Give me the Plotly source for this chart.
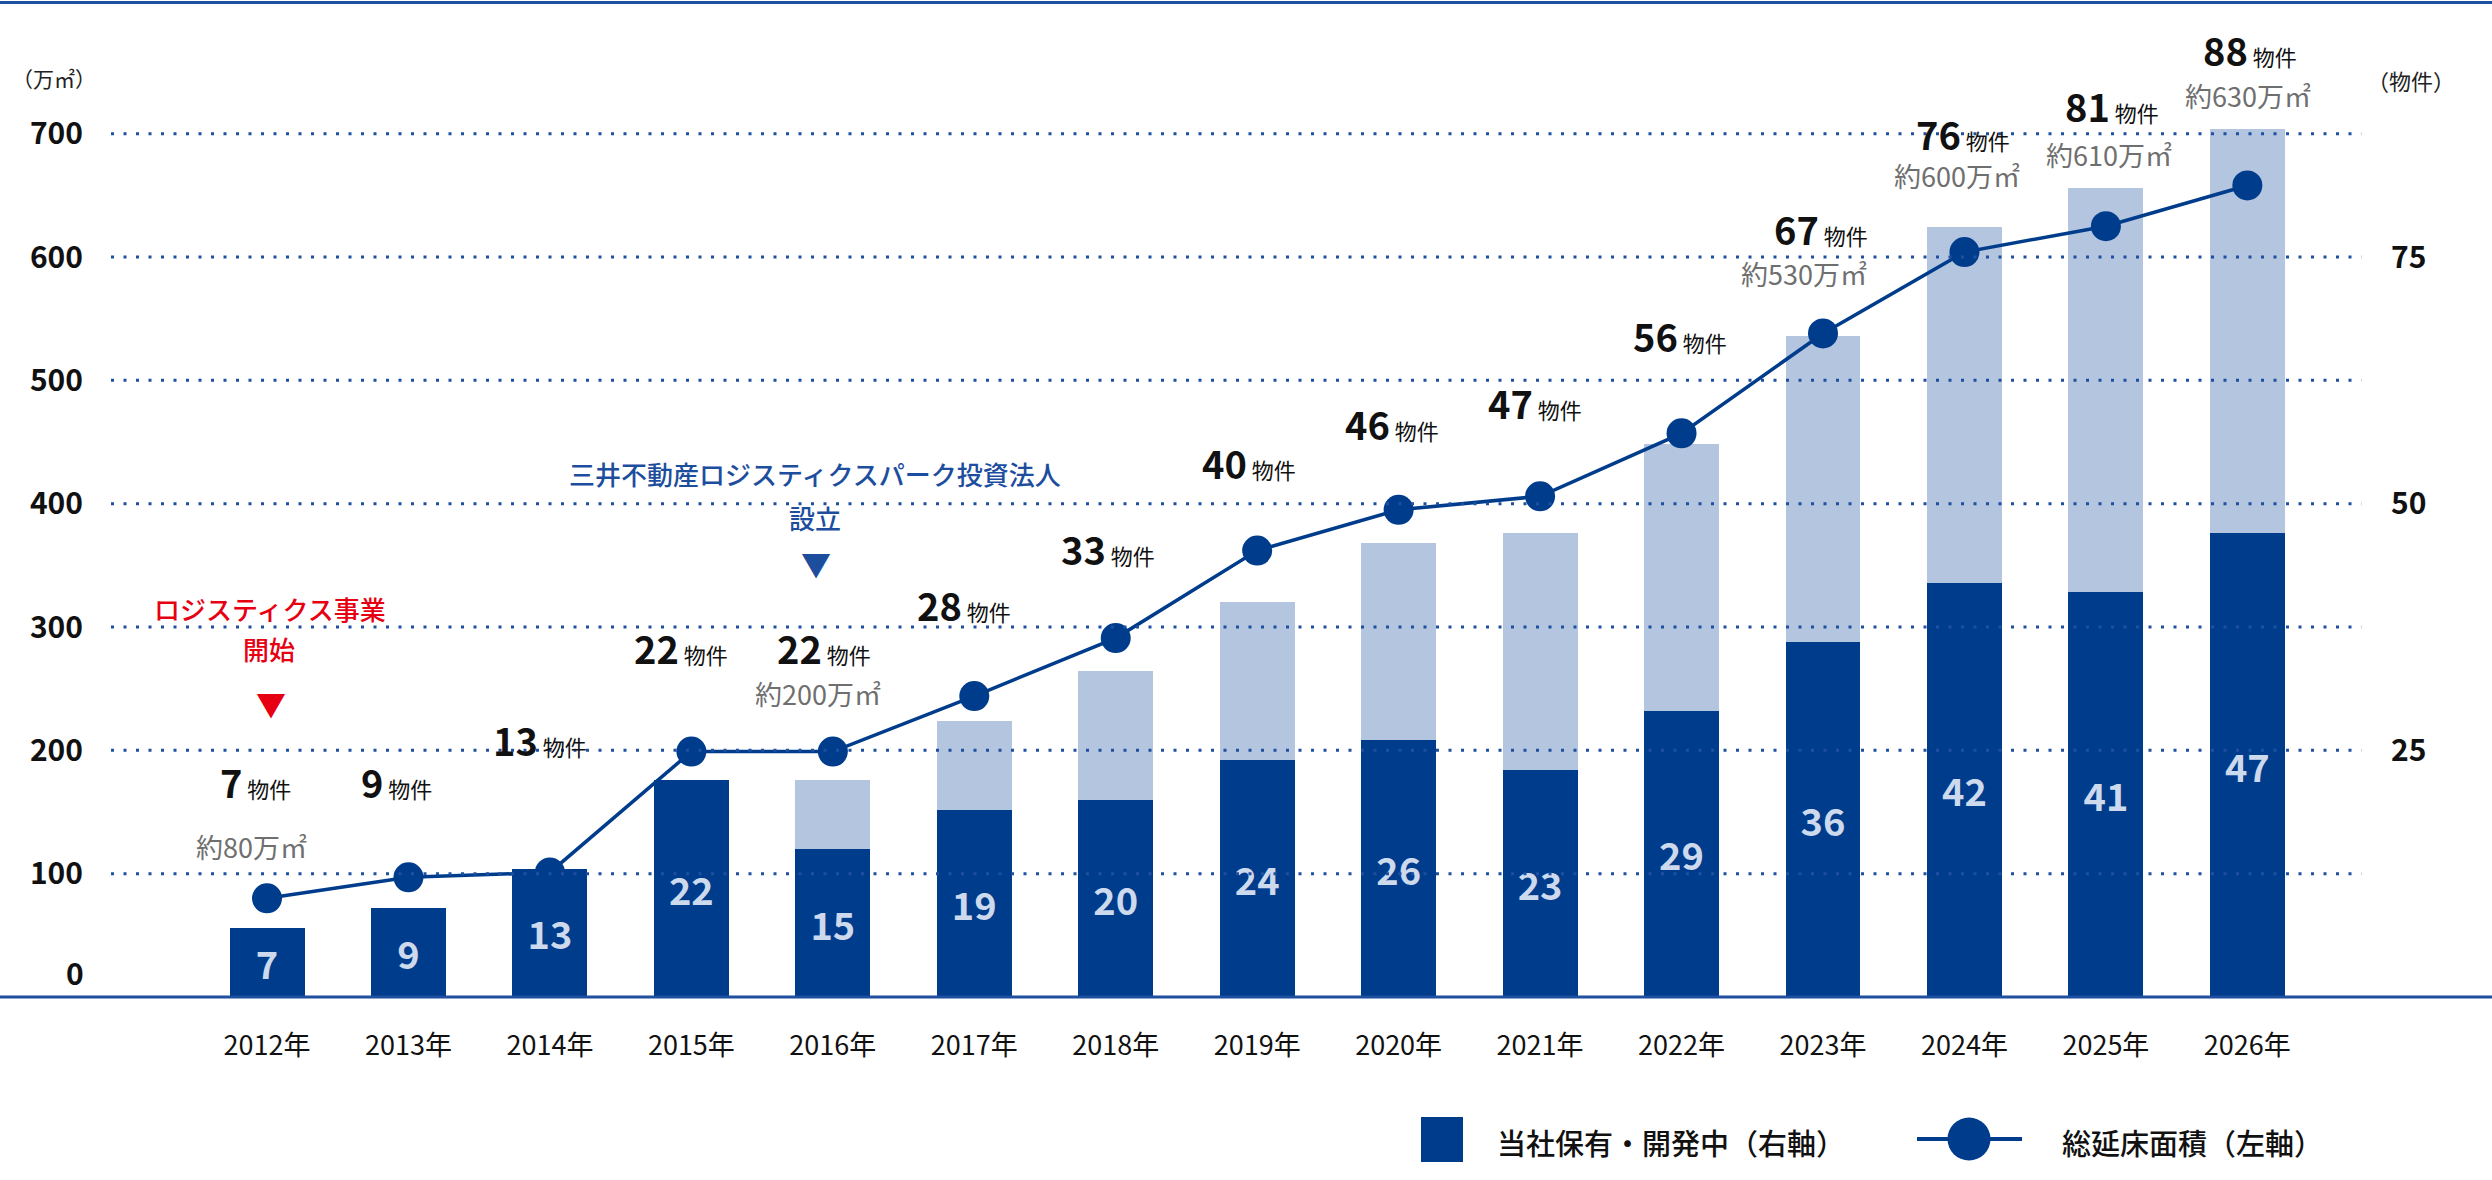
import plotly.graph_objects as go

# ---------------- data ----------------
years = ["2012年", "2013年", "2014年", "2015年", "2016年", "2017年", "2018年", "2019年",
         "2020年", "2021年", "2022年", "2023年", "2024年", "2025年", "2026年"]
owned = [7, 9, 13, 22, 15, 19, 20, 24, 26, 23, 29, 36, 42, 41, 47]          # 当社保有・開発中 (物件)
total = [7, 9, 13, 22, 22, 28, 33, 40, 46, 47, 56, 67, 78, 82, 88]          # bar top (物件)
total_label = [7, 9, 13, 22, 22, 28, 33, 40, 46, 47, 56, 67, 76, 81, 88]    # labelled counts
floor_area = [80, 97, 101, 199, 199, 244, 291, 362, 395, 406, 457, 538, 604, 625, 658]  # 万㎡
area_label_years = ["2012年", "2016年", "2023年", "2024年", "2025年", "2026年"]
area_label_text = ["約80万㎡", "約200万㎡", "約530万㎡", "約600万㎡", "約610万㎡", "約630万㎡"]
left_ticks = [100, 200, 300, 400, 500, 600, 700]
right_ticks = [25, 50, 75]

others = [t - o for t, o in zip(total, owned)]

# ---------------- layout positions (label placement, not data) ----------------
count_label_y = [175, 175, 209, 283, 283, 318, 364, 433, 465, 482, 536, 623, 700, 723, 768]
count_label_dx = [-12, -12, -10, -10, -9, -10, -8, -8, -7, -5, -2, -2, -1, 6, 3]
area_label_y = [122, 246, 587, 666, 683, 731]
area_label_dx = [-16, -15, -19, -7, 3, 1]

W, H = 2492, 1180
PL, PR, PT, PB = 111, 124, 109, 183
PW, PH = W - PL - PR, H - PT - PB
YMAX_L = 720.0
YMAX_R = YMAX_L / 8.0


def px(xp):
    return (xp - PL) / PW


def py(yp):
    return (H - PB - yp) / PH


FONT = "Noto Sans CJK JP"
DARK = "#003c8c"
LIGHT = "#b3c5df"
NAVY = "#1f4f9f"

fig = go.Figure()

fig.add_trace(go.Bar(
    x=years, y=owned, yaxis="y", marker=dict(color=DARK, line=dict(width=0)),
    width=0.53, text=[str(v) for v in owned], textposition="inside",
    insidetextanchor="middle", textangle=0,
    textfont=dict(family=FONT, size=38, color="#cdd9ec", weight=700),
    name="当社保有・開発中（右軸）", showlegend=False, hoverinfo="skip",
))
fig.add_trace(go.Bar(
    x=years, y=others, yaxis="y", marker=dict(color=LIGHT, line=dict(width=0)),
    width=0.53, name="その他", showlegend=False, hoverinfo="skip",
))
fig.add_trace(go.Scatter(
    x=years, y=floor_area, yaxis="y2", mode="lines+markers",
    line=dict(color=DARK, width=3.5),
    marker=dict(size=30, color=DARK, line=dict(width=0)),
    name="総延床面積（左軸）", showlegend=False, hoverinfo="skip", cliponaxis=False,
))

shapes = []
# dotted grid lines
for v in left_ticks:
    shapes.append(dict(type="line", xref="paper", yref="paper", x0=0, x1=0.997,
                       y0=v / YMAX_L, y1=v / YMAX_L, layer="above",
                       line=dict(color=NAVY, width=3, dash="3px,9.5px")))
# bottom axis line & top border line (full width)
shapes.append(dict(type="line", xref="paper", yref="paper", x0=px(0), x1=px(W),
                   y0=0, y1=0, line=dict(color=NAVY, width=3), layer="above"))
shapes.append(dict(type="line", xref="paper", yref="paper", x0=px(0), x1=px(W),
                   y0=py(2.5), y1=py(2.5), line=dict(color=NAVY, width=3)))
# custom legend marks
shapes.append(dict(type="rect", xref="paper", yref="paper", x0=px(1421), x1=px(1463),
                   y0=py(1162), y1=py(1117), fillcolor=DARK, line=dict(width=0)))
shapes.append(dict(type="line", xref="paper", yref="paper", x0=px(1917), x1=px(2022),
                   y0=py(1139), y1=py(1139), line=dict(color=DARK, width=4)))
shapes.append(dict(type="circle", xref="paper", yref="paper", x0=px(1947.5), x1=px(1990.5),
                   y0=py(1160.5), y1=py(1117.5), fillcolor=DARK, line=dict(width=0)))

ann = []
for yr, n, ly, dx in zip(years, total_label, count_label_y, count_label_dx):
    ann.append(dict(
        x=yr, xref="x", y=ly / YMAX_L, yref="paper", xshift=dx, showarrow=False,
        xanchor="center", yanchor="middle",
        text=f"<span style='font-size:38px;font-weight:bold'>{n}</span> <span style='font-size:22px'>物件</span>",
        font=dict(family=FONT, size=22, color="#111111"),
    ))
for yr, t, ly, dx in zip(area_label_years, area_label_text, area_label_y, area_label_dx):
    ann.append(dict(
        x=yr, xref="x", y=ly / YMAX_L, yref="paper", xshift=dx, showarrow=False,
        xanchor="center", yanchor="middle", text=t,
        font=dict(family=FONT, size=27, color="#6f6f6f"),
    ))

RED = "#e60012"
BLUE = "#1d4e9e"
def ptext(x, y, t, size, color, weight=400, xanchor="center"):
    return dict(x=px(x), y=py(y), xref="paper", yref="paper", showarrow=False,
                xanchor=xanchor, yanchor="middle", text=t,
                font=dict(family=FONT, size=size, color=color, weight=weight))

ann += [
    ptext(270, 608, "ロジスティクス事業", 26, RED, 500),
    ptext(269, 648, "開始", 26, RED, 500),
    ptext(271, 703, "▼", 30, RED),
    ptext(815, 474, "三井不動産ロジスティクスパーク投資法人", 26, BLUE, 500),
    ptext(815, 517, "設立", 26, BLUE, 500),
    ptext(816, 563, "▼", 30, BLUE),
    ptext(54, 78, "（万㎡）", 21, "#222222"),
    ptext(2411, 80, "（物件）", 22, "#222222"),
    ptext(86, 972, "0", 30, "#111111", 700, "right"),
    ptext(1495, 1142, "当社保有・開発中（右軸）", 29, "#111111", 500, "left"),
    ptext(2060, 1142, "総延床面積（左軸）", 29, "#111111", 500, "left"),
]

fig.update_layout(
    width=W, height=H, autosize=False,
    margin=dict(l=PL, r=PR, t=PT, b=PB, pad=0),
    paper_bgcolor="white", plot_bgcolor="white",
    barmode="stack", bargap=0.47,
    font=dict(family=FONT, color="#111111"),
    showlegend=False,
    xaxis=dict(type="category", categoryorder="array", categoryarray=years,
               range=[-1.103, 14.853], showgrid=False, zeroline=False, showline=False,
               ticks="", tickfont=dict(family=FONT, size=27, color="#111111"),
               ticklabelstandoff=30, fixedrange=True),
    yaxis=dict(side="right", range=[0, YMAX_R], tickvals=right_ticks,
               showgrid=False, zeroline=False, showline=False, ticks="",
               tickfont=dict(family=FONT, size=30, color="#111111", weight=700),
               ticklabelstandoff=22, fixedrange=True),
    yaxis2=dict(side="left", overlaying="y", range=[0, YMAX_L], tickvals=left_ticks,
                showgrid=False, zeroline=False, showline=False, ticks="",
                tickfont=dict(family=FONT, size=30, color="#111111", weight=700),
                ticklabelstandoff=27, fixedrange=True),
    shapes=shapes,
    annotations=ann,
)

fig.write_html("out.html", config={"displayModeBar": False})
